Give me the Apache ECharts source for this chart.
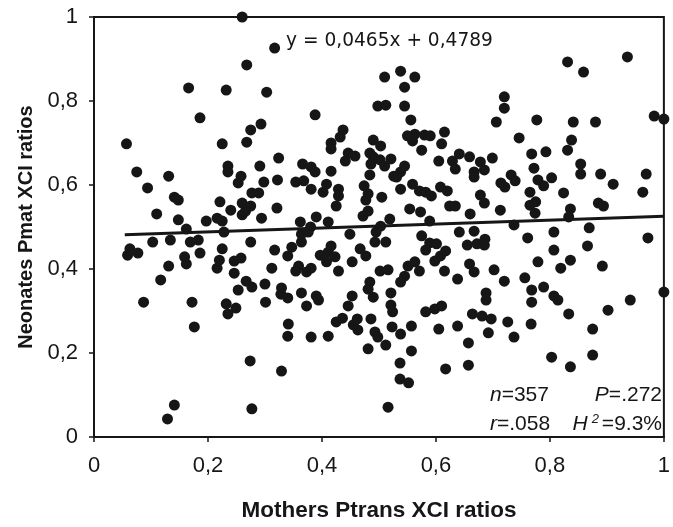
<!DOCTYPE html>
<html>
<head>
<meta charset="utf-8">
<script src="https://cdn.jsdelivr.net/npm/echarts@6/dist/echarts.min.js"></script>
<style>html,body{margin:0;padding:0;background:#fff}#c{width:673px;height:527px}</style>
</head>
<body>
<div id="c"></div>
<script>
// Mothers Ptrans XCI ratios (x) and Neonates Pmat XCI ratios (y)
const mothersPtrans = [
0.26,0.317,0.268,0.166,0.232,0.303,0.186,0.293,0.275,0.057,0.225,0.268,0.324,0.075,0.131,0.235,0.235,0.291,0.258,0.253,0.298,0.322,0.094,0.141,0.148,0.277,0.289,0.221,0.26,0.275,0.24,0.321,0.11,0.148,0.197,0.216,0.225,0.26,0.266,0.294,0.162,
0.228,0.063,0.059,0.077,0.103,0.134,0.169,0.183,0.186,0.275,0.225,0.22,0.216,0.159,0.162,0.131,0.117,0.246,0.258,0.246,0.317,0.312,0.34,0.267,0.277,0.253,0.3,0.329,0.328,0.34,0.087,0.172,0.232,0.249,0.235,0.301,0.176,0.341,0.34,0.274,0.329,0.141,0.129,0.277,
0.538,0.51,0.563,0.545,0.498,0.512,0.545,0.388,0.556,0.437,0.432,0.416,0.416,0.49,0.503,0.55,0.563,0.58,0.59,0.559,0.615,0.61,0.575,0.446,0.458,0.441,0.484,0.49,0.486,0.502,0.521,0.51,0.366,0.381,0.388,0.416,0.484,0.538,0.531,0.545,0.605,0.629,0.641,0.659,0.634,0.354,0.368,0.381,0.402,0.408,0.429,0.429,0.425,0.474,0.481,0.477,0.505,0.526,0.538,0.559,0.571,0.582,0.592,0.608,0.62,0.624,0.634,0.66,0.554,0.573,0.481,0.472,0.362,0.39,0.411,0.519,0.589,
0.38,0.364,0.376,0.449,0.495,0.503,0.641,0.667,0.364,0.493,0.512,0.575,0.589,0.601,0.582,0.347,0.416,0.411,0.397,0.423,0.408,0.467,0.477,0.453,0.617,0.608,0.598,0.615,0.655,0.659,0.667,0.359,0.354,0.373,0.381,0.429,0.502,0.516,0.551,0.563,0.571,0.545,0.538,0.638,0.364,0.39,0.394,0.373,0.453,0.446,0.484,0.481,0.49,0.521,0.521,0.524,0.582,0.598,0.61,0.664,0.381,0.411,0.425,0.436,0.455,0.462,0.463,0.486,0.493,0.498,0.523,0.538,0.557,0.605,0.638,0.481,0.512,0.557,0.657,0.537,0.537,0.552,0.617,0.657,0.516,
0.936,0.831,0.859,0.72,0.72,0.706,0.777,0.841,0.88,0.983,1.0,0.746,0.838,0.831,0.768,0.793,0.678,0.699,0.667,0.685,0.667,0.772,0.854,0.854,0.889,0.969,0.732,0.739,0.714,0.721,0.779,0.789,0.803,0.911,0.765,0.824,0.963,0.678,0.685,0.713,0.765,0.775,0.774,0.836,0.833,0.885,0.894,
0.737,0.807,0.869,0.686,0.672,0.685,0.761,0.972,0.807,0.866,0.702,0.779,0.819,0.836,0.892,0.72,0.756,0.768,0.789,0.807,0.814,0.688,0.688,0.768,0.941,1.0,0.681,0.697,0.726,0.767,0.833,0.902,0.692,0.737,0.875,0.803,0.836,0.875
];
const neonatesPmat = [
1.0,0.926,0.886,0.831,0.826,0.821,0.76,0.745,0.731,0.698,0.698,0.702,0.664,0.631,0.621,0.645,0.631,0.645,0.621,0.605,0.607,0.612,0.593,0.571,0.564,0.581,0.581,0.56,0.557,0.55,0.54,0.545,0.531,0.517,0.514,0.521,0.514,0.529,0.538,0.521,0.495,
0.488,0.448,0.433,0.438,0.464,0.469,0.464,0.469,0.438,0.464,0.448,0.421,0.402,0.429,0.412,0.407,0.374,0.419,0.426,0.39,0.445,0.402,0.431,0.371,0.357,0.35,0.364,0.355,0.34,0.331,0.321,0.321,0.317,0.307,0.293,0.321,0.262,0.269,0.24,0.181,0.157,0.076,0.043,0.067,
0.871,0.857,0.857,0.833,0.788,0.79,0.788,0.767,0.755,0.731,0.714,0.7,0.686,0.707,0.693,0.717,0.721,0.719,0.717,0.705,0.726,0.698,0.683,0.676,0.669,0.657,0.676,0.667,0.65,0.66,0.662,0.645,0.65,0.643,0.631,0.633,0.624,0.631,0.619,0.645,0.657,0.657,0.674,0.667,0.638,0.607,0.61,0.59,0.583,0.602,0.59,0.574,0.55,0.598,0.579,0.564,0.571,0.621,0.59,0.602,0.586,0.583,0.574,0.595,0.586,0.55,0.55,0.531,0.543,0.536,0.538,0.526,0.512,0.524,0.512,0.519,0.514,
0.5,0.483,0.488,0.483,0.488,0.502,0.488,0.49,0.464,0.464,0.464,0.479,0.462,0.46,0.445,0.452,0.455,0.44,0.433,0.429,0.417,0.448,0.431,0.417,0.443,0.431,0.419,0.395,0.457,0.412,0.393,0.407,0.395,0.393,0.402,0.395,0.395,0.398,0.407,0.417,0.395,0.383,0.369,0.376,0.343,0.336,0.326,0.312,0.336,0.312,0.369,0.352,0.333,0.343,0.314,0.298,0.298,0.305,0.312,0.293,0.238,0.24,0.274,0.283,0.267,0.281,0.255,0.281,0.25,0.238,0.262,0.245,0.264,0.257,0.264,0.21,0.219,0.205,0.224,0.176,0.138,0.129,0.162,0.171,0.071,
0.905,0.893,0.869,0.81,0.783,0.75,0.755,0.75,0.75,0.764,0.757,0.712,0.707,0.683,0.674,0.679,0.655,0.664,0.631,0.636,0.619,0.64,0.65,0.626,0.626,0.626,0.624,0.61,0.605,0.595,0.612,0.598,0.617,0.602,0.583,0.581,0.583,0.576,0.557,0.54,0.552,0.56,0.533,0.543,0.524,0.557,0.55,
0.505,0.488,0.498,0.471,0.46,0.457,0.474,0.474,0.445,0.455,0.398,0.417,0.402,0.421,0.407,0.371,0.379,0.35,0.357,0.336,0.326,0.343,0.326,0.321,0.326,0.345,0.288,0.281,0.274,0.269,0.293,0.302,0.248,0.238,0.257,0.19,0.167,0.195
];
// Regression fit from the chart annotation
const fitSlope = 0.0465;
const fitIntercept = 0.4789;
const fitXRange = [0.054, 1];
const equationLabel = 'y = 0,0465x + 0,4789';
const statN = 357, statP = '.272', statR = '.058', statH2 = '9.3%';
const axisTicks = [0, 0.2, 0.4, 0.6, 0.8, 1];

const points = mothersPtrans.map((x, i) => [x, neonatesPmat[i]]);
const fitLine = fitXRange.map(x => [x, fitSlope * x + fitIntercept]);
const fmt = v => (v === 0 ? '0' : v === 1 ? '1' : (+v).toFixed(1).replace('.', ','));

const chart = echarts.init(document.getElementById('c'));
const ink = '#161616';
const axisCommon = {
  type: 'value', min: 0, max: 1, interval: 0.2,
  axisLine: { show: true, lineStyle: { color: ink, width: 2 } },
  axisTick: { show: true, inside: false, length: 5, lineStyle: { color: ink, width: 1.5 } },
  splitLine: { show: false },
  nameLocation: 'middle',
  nameTextStyle: { color: ink, fontWeight: 'bold', fontFamily: 'Liberation Sans, Arial, sans-serif' }
};
chart.setOption({
  animation: false,
  backgroundColor: '#fff',
  grid: { left: 94, right: 2, top: 17, bottom: 88, show: true, borderColor: ink, borderWidth: 2, backgroundColor: 'transparent' },
  xAxis: Object.assign({}, axisCommon, {
    name: 'Mothers Ptrans XCI ratios', nameGap: 62,
    nameTextStyle: Object.assign({}, axisCommon.nameTextStyle, { fontSize: 22.5 }),
    axisLabel: { formatter: fmt, margin: 18, color: ink, fontSize: 22, fontFamily: 'Liberation Sans, Arial, sans-serif', showMinLabel: true, showMaxLabel: true }
  }),
  yAxis: Object.assign({}, axisCommon, {
    name: 'Neonates Pmat XCI ratios', nameGap: 48, nameRotate: 90,
    nameTextStyle: Object.assign({}, axisCommon.nameTextStyle, { fontSize: 20 }),
    axisLabel: { formatter: fmt, margin: 16, color: ink, fontSize: 22, fontFamily: 'Liberation Sans, Arial, sans-serif' }
  }),
  series: [
    { type: 'scatter', data: points, symbol: 'circle', symbolSize: 11, clip: false,
      itemStyle: { color: ink, opacity: 1 }, z: 3 },
    { type: 'line', data: fitLine, symbol: 'none', lineStyle: { color: ink, width: 3 }, z: 4 }
  ],
  graphic: [
    { type: 'text', x: 286, y: 41, style: { text: equationLabel, fill: ink, fontSize: 18.6, fontFamily: 'DejaVu Sans', textAlign: 'left', textVerticalAlign: 'middle' } },
    { type: 'text', x: 490, y: 395, style: { text: '{i|n}=' + statN, fill: ink, fontSize: 21, fontFamily: 'Liberation Sans', textAlign: 'left', textVerticalAlign: 'middle',
      rich: { i: { fontStyle: 'italic', fontSize: 21, fontFamily: 'Liberation Sans', fill: ink } } } },
    { type: 'text', x: 662, y: 395, style: { text: '{i|P}=' + statP, fill: ink, fontSize: 21, fontFamily: 'Liberation Sans', textAlign: 'right', textVerticalAlign: 'middle',
      rich: { i: { fontStyle: 'italic', fontSize: 21, fontFamily: 'Liberation Sans', fill: ink } } } },
    { type: 'text', x: 490, y: 424, style: { text: '{i|r}=' + statR, fill: ink, fontSize: 21, fontFamily: 'Liberation Sans', textAlign: 'left', textVerticalAlign: 'middle',
      rich: { i: { fontStyle: 'italic', fontSize: 21, fontFamily: 'Liberation Sans', fill: ink } } } },
    { type: 'text', x: 662, y: 424, style: { text: '{i|H}{s|2}=' + statH2, fill: ink, fontSize: 21, fontFamily: 'Liberation Sans', textAlign: 'right', textVerticalAlign: 'middle',
      rich: { i: { fontStyle: 'italic', fontSize: 21, fontFamily: 'Liberation Sans', fill: ink },
              s: { fontStyle: 'italic', fontSize: 13, fontFamily: 'Liberation Sans', fill: ink, padding: [0, 3, 10, 4] } } } }
  ]
});
</script>
</body>
</html>
